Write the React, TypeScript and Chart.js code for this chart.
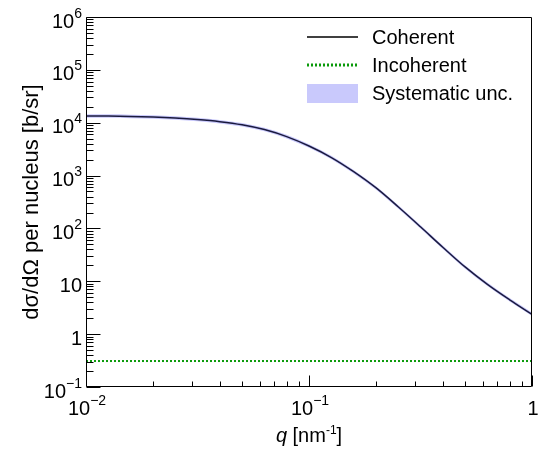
import { useEffect, useRef } from 'react';
import { Chart, registerables } from 'chart.js';

Chart.register(...registerables);

// ---- data ----
const qValues = [0.01, 0.0126, 0.0158, 0.02, 0.0251, 0.0316, 0.0398, 0.0501, 0.0631, 0.0794, 0.1, 0.126, 0.158, 0.2, 0.251, 0.316, 0.398, 0.501, 0.631, 0.794, 1.0];
const coherentValues = [13400, 13350, 13170, 12820, 12270, 11490, 10470, 9140, 7410, 5456, 3622, 2194, 1199, 583, 257, 107.5, 44.1, 18.7, 8.75, 4.47, 2.37];
const incoherentQ = [0.01, 1];
const incoherentValues = [0.31, 0.31];
const systematicRel = 0.08;
const yDecades = [-1, 0, 1, 2, 3, 4, 5, 6];
const xDecades = [-2, -1, 0];
const legendLabels = ['Coherent', 'Incoherent', 'Systematic unc.'];
const yTitle = 'dσ/dΩ per nucleus [b/sr]';

const FONT = '"Liberation Sans", Arial, Helvetica, sans-serif';

function expText(k: number) {
  return k < 0 ? '\u2212' + Math.abs(k) : String(k);
}

function drawPowLabel(ctx: CanvasRenderingContext2D, k: number, anchorX: number, baseline: number, align: 'right' | 'center') {
  ctx.textAlign = 'left';
  ctx.textBaseline = 'alphabetic';
  if (k === 0 || k === 1) {
    const t = k === 0 ? '1' : '10';
    ctx.font = `20px ${FONT}`;
    const w = ctx.measureText(t).width;
    const sx = align === 'right' ? anchorX - w : anchorX - w / 2;
    ctx.fillText(t, sx, baseline);
    return;
  }
  ctx.font = `20px ${FONT}`;
  const wb = ctx.measureText('10').width;
  ctx.font = `14px ${FONT}`;
  const e = expText(k);
  const we = ctx.measureText(e).width;
  const total = wb + we;
  const sx = align === 'right' ? anchorX - total : anchorX - total / 2;
  ctx.font = `20px ${FONT}`;
  ctx.fillText('10', sx, baseline);
  ctx.font = `14px ${FONT}`;
  ctx.fillText(e, sx + wb, baseline - 10);
}

const rootStylePlugin = {
  id: 'rootStyle',
  afterDraw(chart: any) {
    const ctx: CanvasRenderingContext2D = chart.ctx;
    const { left, right, top, bottom } = chart.chartArea;
    const xs = chart.scales.x;
    const ys = chart.scales.y;
    ctx.save();
    ctx.strokeStyle = '#000';
    ctx.fillStyle = '#000';
    ctx.lineWidth = 1;
    const L = Math.round(left) + 0.5;
    const R = Math.round(right) - 0.5;
    const T = Math.round(top) + 0.5;
    const B = Math.round(bottom) - 0.5;
    ctx.beginPath();
    ctx.rect(L, T, R - L, B - T);
    ctx.stroke();

    ctx.beginPath();
    for (const k of yDecades) {
      for (let m = 1; m <= 9; m++) {
        const v = m * Math.pow(10, k);
        if (v < 0.1 - 1e-12 || v > 1e6 + 1e-6) continue;
        const py = Math.round(ys.getPixelForValue(v)) + 0.5;
        const len = m === 1 ? 14 : 7;
        ctx.moveTo(L, py);
        ctx.lineTo(L + len, py);
      }
    }
    for (const k of xDecades) {
      for (let m = 1; m <= 9; m++) {
        const v = m * Math.pow(10, k);
        if (v < 0.01 - 1e-12 || v > 1 + 1e-9) continue;
        const px = Math.round(xs.getPixelForValue(v)) + 0.5;
        const len = m === 1 ? 11 : 5;
        ctx.moveTo(px, B);
        ctx.lineTo(px, B - len);
      }
    }
    ctx.stroke();

    for (const k of yDecades) {
      const py = ys.getPixelForValue(Math.pow(10, k));
      drawPowLabel(ctx, k, left - 4, py + 10.5, 'right');
    }
    for (const k of xDecades) {
      const px = xs.getPixelForValue(Math.pow(10, k));
      drawPowLabel(ctx, k, px + 1, bottom + 28, 'center');
    }

    {
      ctx.textAlign = 'left';
      ctx.textBaseline = 'alphabetic';
      const p1 = 'q';
      const p2 = ' [nm';
      const p3 = '-1';
      const p4 = ']';
      ctx.font = `italic 20px ${FONT}`;
      const w1 = ctx.measureText(p1).width;
      ctx.font = `20px ${FONT}`;
      const w2 = ctx.measureText(p2).width;
      const w4 = ctx.measureText(p4).width;
      ctx.font = `12px ${FONT}`;
      const w3 = ctx.measureText(p3).width;
      const total = w1 + w2 + w3 + w4;
      const cx = (left + right) / 2;
      let sx = cx - total / 2;
      const by = bottom + 55;
      ctx.font = `italic 20px ${FONT}`;
      ctx.fillText(p1, sx, by); sx += w1;
      ctx.font = `20px ${FONT}`;
      ctx.fillText(p2, sx, by); sx += w2;
      ctx.font = `12px ${FONT}`;
      ctx.fillText(p3, sx, by - 8); sx += w3;
      ctx.font = `20px ${FONT}`;
      ctx.fillText(p4, sx, by);
    }

    ctx.save();
    ctx.translate(38, (top + bottom) / 2);
    ctx.rotate(-Math.PI / 2);
    ctx.font = `22px ${FONT}`;
    ctx.textAlign = 'center';
    ctx.textBaseline = 'alphabetic';
    ctx.fillText(yTitle, 0, 0);
    ctx.restore();

    const lx0 = 307, lx1 = 358, tx = 372;
    const rows = [37, 65, 94];
    ctx.font = `20px ${FONT}`;
    ctx.textAlign = 'left';
    ctx.textBaseline = 'alphabetic';
    ctx.strokeStyle = '#000';
    ctx.lineWidth = 1.5;
    ctx.setLineDash([]);
    ctx.beginPath(); ctx.moveTo(lx0, rows[0]); ctx.lineTo(lx1, rows[0]); ctx.stroke();
    ctx.fillText(legendLabels[0], tx, rows[0] + 7);
    ctx.strokeStyle = '#0a9a0a';
    ctx.lineWidth = 3;
    ctx.setLineDash([2, 2]);
    ctx.beginPath(); ctx.moveTo(lx0, rows[1]); ctx.lineTo(lx1, rows[1]); ctx.stroke();
    ctx.setLineDash([]);
    ctx.fillText(legendLabels[1], tx, rows[1] + 7);
    ctx.fillStyle = '#c9c9fc';
    ctx.fillRect(lx0, rows[2] - 10, lx1 - lx0, 19);
    ctx.fillStyle = '#000';
    ctx.fillText(legendLabels[2], tx, rows[2] + 6);

    ctx.restore();
  },
};

export default function App() {
  const ref = useRef<HTMLCanvasElement | null>(null);
  useEffect(() => {
    if (!ref.current) return;
    const coh = qValues.map((q, i) => ({ x: q, y: coherentValues[i] }));
    const upper = qValues.map((q, i) => ({ x: q, y: coherentValues[i] * (1 + systematicRel) }));
    const lower = qValues.map((q, i) => ({ x: q, y: coherentValues[i] / (1 + systematicRel) }));
    const inc = incoherentQ.map((q, i) => ({ x: q, y: incoherentValues[i] }));
    const chart = new Chart(ref.current, {
      type: 'line',
      data: {
        datasets: [
          { label: 'Coherent', data: coh, borderColor: '#1a1a3e', borderWidth: 1.5, pointRadius: 0, fill: false, cubicInterpolationMode: 'monotone' },
          { label: 'Incoherent', data: inc, borderColor: '#0a9a0a', borderWidth: 2, borderDash: [2, 2], pointRadius: 0, fill: false },
          { label: 'Systematic unc.', data: upper, borderWidth: 0, borderColor: 'rgba(0,0,0,0)', backgroundColor: '#c9c9fc', fill: '+1', pointRadius: 0, cubicInterpolationMode: 'monotone' },
          { label: 'lower', data: lower, borderWidth: 0, borderColor: 'rgba(0,0,0,0)', pointRadius: 0, fill: false, cubicInterpolationMode: 'monotone' },
        ],
      } as any,
      options: {
        animation: false,
        responsive: false,
        maintainAspectRatio: false,
        layout: { padding: { left: 86, top: 17, right: 9, bottom: 70 } },
        scales: {
          x: { type: 'logarithmic', min: 0.01, max: 1, display: false },
          y: { type: 'logarithmic', min: 0.1, max: 1e6, display: false },
        },
        plugins: { legend: { display: false }, tooltip: { enabled: false } },
      } as any,
      plugins: [rootStylePlugin],
    });
    return () => chart.destroy();
  }, []);
  return (
    <div style={{ position: 'absolute', left: 0, top: 0, width: 541, height: 457, background: '#fff' }}>
      <canvas ref={ref} width={541} height={457} style={{ display: 'block' }} />
    </div>
  );
}
